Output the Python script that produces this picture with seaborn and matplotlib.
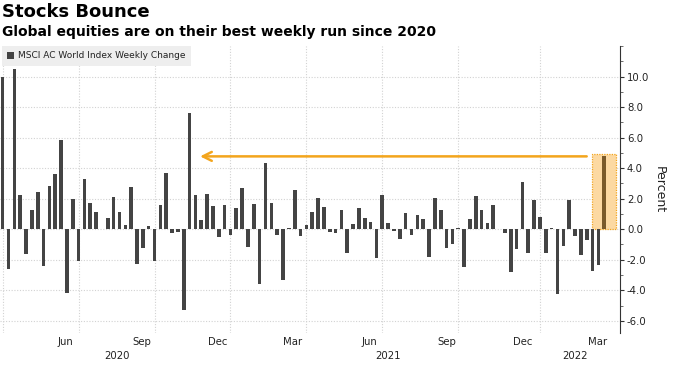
import numpy as np
import pandas as pd
import matplotlib
matplotlib.use("Agg")
import matplotlib.pyplot as plt
import matplotlib.transforms as mtransforms
from matplotlib.patches import Rectangle, Patch
from matplotlib.ticker import MultipleLocator, FormatStrFormatter
import seaborn as sns

# ---- data ----
first_week = "2020-03-27"
weekly_change = [
    10.0, -2.58, 10.5, 2.23, -1.6, 1.25, 2.43, -2.43, 2.84, 3.59,
    5.84, -4.18, 1.99, -2.08, 3.26, 1.73, 1.14, -0.02, 0.72, 2.08,
    1.12, 0.26, 2.74, -2.3, -1.2, 0.2, -2.08, 1.6, 3.65, -0.22,
    -0.2, -5.3, 7.6, 2.23, 0.6, 2.32, 1.53, -0.5, 1.6, -0.35,
    1.4, 2.71, -1.16, 1.66, -3.57, 4.33, 1.73, -0.35, -3.35, 0.05,
    2.56, -0.46, 0.3, 1.14, 2.03, 1.47, -0.17, -0.28, 1.23, -1.55,
    0.33, 1.36, 0.72, 0.44, -1.88, 2.23, 0.39, -0.11, -0.61, 1.09,
    -0.35, 0.96, 0.66, -1.82, 2.03, 1.25, -1.23, -0.94, 0.07, -2.47,
    0.7, 2.17, 1.25, 0.39, 1.58, -0.02, -0.24, -2.8, -1.27, 3.06,
    -1.55, 1.9, 0.77, -1.53, 0.11, -4.27, -1.1, 1.9, -0.46, -1.66,
    -0.68, -2.74, -2.36, 4.81,
]
series_name = "MSCI AC World Index Weekly Change"
title = "Stocks Bounce"
subtitle = "Global equities are on their best weekly run since 2020"
y_ticks = [-6, -4, -2, 0, 2, 4, 6, 8, 10]
month_names = {3: "Mar", 6: "Jun", 9: "Sep", 12: "Dec"}

dates = pd.date_range(first_week, periods=len(weekly_change), freq="W-FRI")
df = pd.DataFrame({
    "week": dates,
    "pos": np.arange(len(weekly_change)),
    "change": weekly_change,
})
df["latest"] = df["pos"] == df["pos"].max()

# ---- figure ----
sns.set_theme(style="white")
plt.rcParams["font.family"] = ["DejaVu Sans"]

fig = plt.figure(figsize=(6.75, 3.79), dpi=100)
ax = fig.add_axes([0.0, 0.1214, 0.9185, 0.7572])

BAR = "#444444"
ORANGE = "#f3a51d"

# highlight box behind the latest bar
last = df.iloc[-1]
ax.add_patch(Rectangle((last["pos"] - 2.05, 0), 4.1, last["change"] + 0.12,
                       facecolor="#fcd9a2", edgecolor=ORANGE, linestyle=(0, (1, 1)),
                       linewidth=0.9, zorder=1))

sns.barplot(data=df, x="pos", y="change", hue="latest", native_scale=True,
            palette={False: BAR, True: "#7a5a2a"}, width=0.62, legend=False,
            linewidth=0, saturation=1, ax=ax, zorder=2)

ax.set_xlim(-0.46, len(df) + 1.7)
ax.set_ylim(-6.8, 12.0)

# y axis on right
ax.yaxis.tick_right()
ax.yaxis.set_label_position("right")
ax.set_yticks(y_ticks)
ax.yaxis.set_major_formatter(FormatStrFormatter("%.1f"))
ax.yaxis.set_minor_locator(MultipleLocator(1))
ax.tick_params(axis="y", which="major", length=3, width=0.8, color="#333333",
               labelsize=7.3, labelcolor="#222222", pad=2, right=True, left=False)
ax.tick_params(axis="y", which="minor", length=2, width=0.6, color="#555555",
               right=True, left=False)
ax.set_ylabel("Percent", rotation=270, fontsize=9, color="#222222", labelpad=12)
ax.set_xlabel("")

for s in ["top", "left", "bottom"]:
    ax.spines[s].set_visible(False)
ax.spines["right"].set_color("#333333")
ax.spines["right"].set_linewidth(0.8)

# horizontal grid
ax.grid(axis="y", color="#d2d2d2", linestyle=(0, (1, 1.5)), linewidth=0.8, zorder=0)
ax.set_axisbelow(True)

# vertical gridlines at last week of each quarter
q = df["week"].dt.quarter.values
for i in range(len(df) - 1):
    if q[i] != q[i + 1]:
        ax.axvline(df["pos"].iloc[i], color="#d2d2d2", linestyle=(0, (1, 1.5)),
                   linewidth=0.8, zorder=0)

# month tick labels
ordinals = df["week"].map(pd.Timestamp.toordinal).values
tick_pos, tick_lab = [], []
for period in pd.period_range(dates[0], dates[-1], freq="M"):
    if period.month in month_names:
        anchor = pd.Timestamp(period.year, period.month, 10).toordinal()
        if anchor >= ordinals[0]:
            tick_pos.append(np.interp(anchor, ordinals, df["pos"].values))
            tick_lab.append(month_names[period.month])
ax.set_xticks(tick_pos, tick_lab)
ax.tick_params(axis="x", length=0, labelsize=7.3, labelcolor="#222222", pad=3)

# year labels
trans = mtransforms.blended_transform_factory(ax.transData, ax.transAxes)
for yr, grp in df.groupby(df["week"].dt.year):
    ax.text(grp["pos"].mean(), -0.08, str(yr), transform=trans, ha="center",
            va="center", fontsize=7.3, color="#222222")

# arrow back to the previous comparable week (largest gain after the spring 2020 rebound)
prev_peak = df.loc[df["change"].iloc[20:-1].idxmax()]
ax.annotate("", xy=(prev_peak["pos"] + 1.8, last["change"] - 0.04),
            xytext=(last["pos"] - 3.0, last["change"] - 0.04),
            arrowprops=dict(arrowstyle="->", color=ORANGE, lw=1.8,
                            mutation_scale=16, shrinkA=0, shrinkB=0),
            zorder=3)

# legend
leg = ax.legend(handles=[Patch(facecolor=BAR, edgecolor="none", label=series_name)],
                loc="upper left", bbox_to_anchor=(0.003, 1.0), frameon=True,
                fancybox=False, facecolor="#eeeeee", edgecolor="none", framealpha=1,
                fontsize=6.5, handlelength=0.75, handleheight=0.75,
                handletextpad=0.4, borderpad=0.6, borderaxespad=0)
for t in leg.get_texts():
    t.set_color("#222222")

# titles
fig.text(0.003, 0.992, title, fontsize=13, fontweight="bold", va="top", ha="left",
         color="black")
fig.text(0.003, 0.935, subtitle, fontsize=10, fontweight="bold", va="top",
         ha="left", color="black")

fig.savefig("out.png", dpi=100)
